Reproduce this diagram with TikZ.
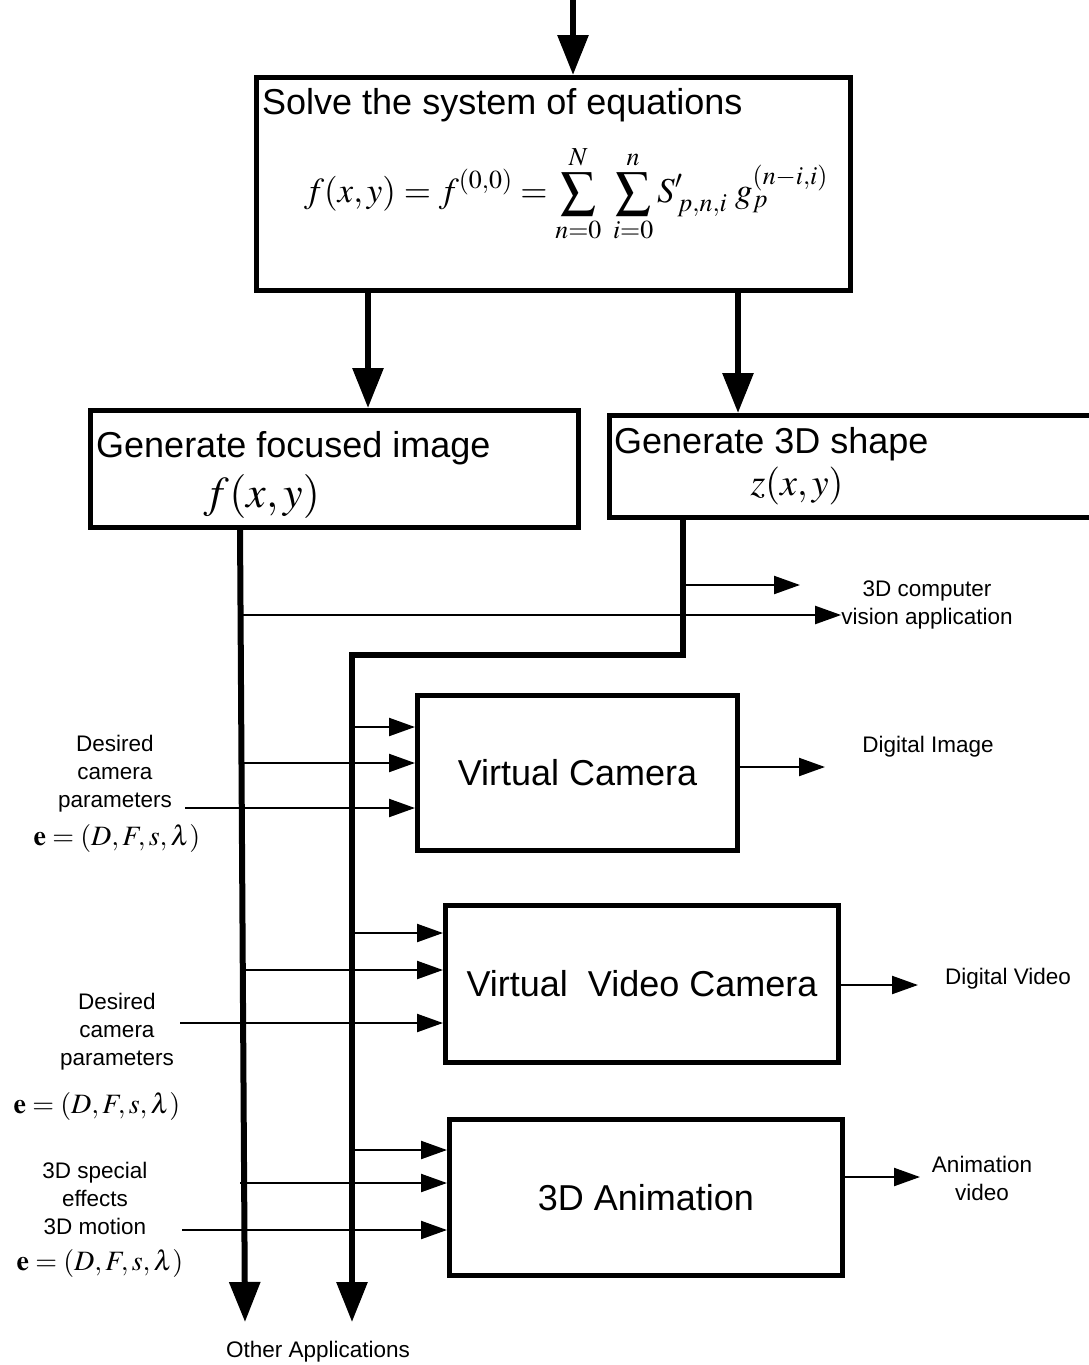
\documentclass[tikz,border=0pt]{standalone}
\usepackage{mathptmx}
\usepackage{fontspec}
\setmainfont{Liberation Sans}
\usetikzlibrary{arrows.meta,positioning}

\tikzstyle{box}=[draw,line width=5pt,rectangle,inner sep=0pt,anchor=north west]
\tikzstyle{trunk}=[draw,line width=6pt,-{Triangle[length=40pt,width=30pt]}]
\tikzstyle{feed}=[draw,line width=2.2pt,-{Triangle[length=26pt,width=18pt]}]
\tikzstyle{head}=[font=\fontsize{36}{40}\selectfont,inner sep=0pt]
\tikzstyle{note}=[font=\fontsize{22.5}{28}\selectfont,align=center,inner sep=0pt]
\tikzstyle{param}=[font=\fontsize{28}{32}\selectfont,inner sep=0pt]

\begin{document}
\begin{tikzpicture}[x=1pt, y=-1pt]
    \useasboundingbox (0,0) rectangle (1088,1365);
    % First the boxes
    \node[box, minimum width=594pt, minimum height=213pt] (solve) at (254,75) {};
    \node[box, minimum width=488pt, minimum height=117pt] (focus) at (88,408) {};
    \node[box, minimum width=500pt, minimum height=102pt] (shape) at (607,413) {};
    \node[box, minimum width=320pt, minimum height=155pt] (vcam) at (415,693) {};
    \node[box, minimum width=393pt, minimum height=157pt] (vvid) at (443,903) {};
    \node[box, minimum width=393pt, minimum height=156pt] (anim) at (447,1117) {};

    % Texts inside the boxes
    \node[head, anchor=base west] (solvetxt) at (262,114) {Solve the system of equations};
    \node[inner sep=0pt, font=\fontsize{35}{38}\selectfont] (eqn) at (566,194)
        {$\displaystyle f(x,y)=f^{(0,0)}=\sum_{n=0}^{N}\;\sum_{i=0}^{n}S'_{\,p,n,i}\;g_p^{(n-i,i)}$};
    \node[head, anchor=base west] (focustxt) at (96,457) {Generate focused image};
    \node[inner sep=0pt, font=\fontsize{44}{48}\selectfont] (fxy) at (262,496) {$f(x,y)$};
    \node[head, anchor=base west] (shapetxt) at (614,453) {Generate 3D shape};
    \node[inner sep=0pt, font=\fontsize{38}{42}\selectfont] (zxy) at (797,486) {$z(x,y)$};
    \node[head] at (vcam.center) {Virtual Camera};
    \node[head] at (vvid.center) {Virtual\ \ Video Camera};
    \node[head] at (anim.center) {3D Animation};

    % Trunk lines
    \coordinate (top) at (573,0);
    \coordinate (l1) at (240,526);
    \coordinate (l1end) at (245,1322);
    \coordinate (bend) at (683,655);
    \coordinate (l2end) at (352,1322);
    \path[trunk] (top) -- (solve.north -| top);
    \path[trunk] (solve.south -| 368,0) -- (focus.north -| 368,0);
    \path[trunk] (solve.south -| 738,0) -- (shape.north -| 738,0);
    \path[trunk] (l1) -- (l1end);
    \path[trunk] (shape.south -| bend) -- (bend) -- (bend -| l2end) -- (l2end);

    % Side labels
    \node[note] (vision) at (927,605) {3D computer\\vision application};
    \node[note] (digimg) at (928,747) {Digital Image};
    \node[note] (digvid) at (1008,979) {Digital Video};
    \node[note] (animvid) at (982,1178) {Animation\\video};
    \node[note] (other) at (318,1352) {Other Applications};
    \node[note] (cam1) at (115,774) {Desired\\camera\\parameters};
    \node[param] (e1) at (117,838) {$\mathbf{e}=(D,F,s,\lambda)$};
    \node[note] (cam2) at (117,1032) {Desired\\camera\\parameters};
    \node[param] (e2) at (97,1106) {$\mathbf{e}=(D,F,s,\lambda)$};
    \node[note] (fx3) at (95,1198) {3D special\\effects\\3D motion};
    \node[param] (e3) at (100,1263) {$\mathbf{e}=(D,F,s,\lambda)$};

    % Feeds into the boxes
    \path[feed] (bend |- 0,585) -- (800,585);
    \path[feed] (l1 |- 0,615) -- (vision.west |- 0,615);
    \foreach \bx/\ya/\yb/\yc/\xs in {vcam/727/763/808/185, vvid/933/970/1023/180, anim/1150/1183/1230/182}
    {
        \path[feed] (l2end |- 0,\ya) -- (\bx.west |- 0,\ya);
        \path[feed] (l1 |- 0,\yb) -- (\bx.west |- 0,\yb);
        \path[feed] (\xs,\yc) -- (\bx.west |- 0,\yc);
    }
    % Outputs
    \path[feed] (vcam.east |- 0,767) -- (825,767);
    \path[feed] (vvid.east |- 0,985) -- (918,985);
    \path[feed] (anim.east |- 0,1177) -- (920,1177);
\end{tikzpicture}
\end{document}
